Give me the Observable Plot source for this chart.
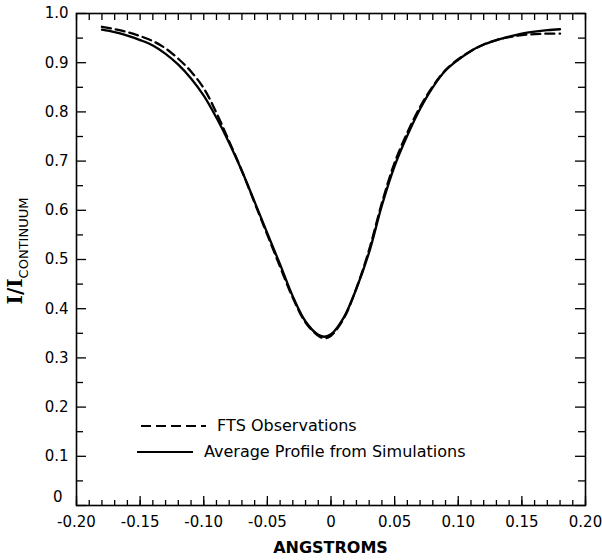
<!DOCTYPE html>
<html><head><meta charset="utf-8">
<script src="https://cdn.jsdelivr.net/npm/d3@7"></script>
<script src="https://cdn.jsdelivr.net/npm/@observablehq/plot@0.6"></script>
<style>body{margin:0;background:#fff}</style>
</head><body><div id="chart"></div>
<script>
// Wavelength offset (Angstroms)
const wavelength = [-0.18,-0.17,-0.16,-0.15,-0.14,-0.13,-0.12,-0.11,-0.10,-0.09,-0.08,-0.07,-0.06,-0.05,-0.04,-0.03,-0.02,-0.01,-0.005,0.0,0.01,0.02,0.03,0.04,0.05,0.06,0.07,0.08,0.09,0.10,0.11,0.12,0.13,0.14,0.15,0.16,0.17,0.18];
// FTS Observations (dashed)
const ftsObs = [0.973,0.968,0.962,0.954,0.944,0.929,0.908,0.882,0.848,0.798,0.740,0.680,0.615,0.550,0.485,0.422,0.372,0.345,0.340,0.345,0.380,0.442,0.520,0.615,0.697,0.758,0.810,0.852,0.885,0.907,0.924,0.937,0.946,0.952,0.956,0.958,0.959,0.959];
// Average profile from simulations (solid)
const simAvg = [0.967,0.962,0.955,0.946,0.935,0.918,0.896,0.868,0.833,0.788,0.737,0.680,0.617,0.553,0.490,0.425,0.374,0.347,0.343,0.348,0.382,0.441,0.515,0.610,0.690,0.752,0.806,0.850,0.884,0.906,0.924,0.937,0.946,0.953,0.959,0.963,0.966,0.968];

const xTicks = [-0.20,-0.15,-0.10,-0.05,0,0.05,0.10,0.15,0.20];
const xTickLabels = ["-0.20","-0.15","-0.10","-0.05","0","0.05","0.10","0.15","0.20"];
const xMinorTicks = [-0.20,-0.19,-0.18,-0.17,-0.16,-0.15,-0.14,-0.13,-0.12,-0.11,-0.10,-0.09,-0.08,-0.07,-0.06,-0.05,-0.04,-0.03,-0.02,-0.01,0,0.01,0.02,0.03,0.04,0.05,0.06,0.07,0.08,0.09,0.10,0.11,0.12,0.13,0.14,0.15,0.16,0.17,0.18,0.19,0.20];
const yTicks = [0,0.1,0.2,0.3,0.4,0.5,0.6,0.7,0.8,0.9,1.0];
const yTickLabels = ["0","0.1","0.2","0.3","0.4","0.5","0.6","0.7","0.8","0.9","1.0"];
const yMinorTicks = [0.05,0.15,0.25,0.35,0.45,0.55,0.65,0.75,0.85,0.95];

const seriesNames = ["FTS Observations","Average Profile from Simulations"];
const xTitle = "ANGSTROMS";

const fts = wavelength.map((x,i)=>({x, y: ftsObs[i]}));
const sim = wavelength.map((x,i)=>({x, y: simAvg[i]}));
const yLabelTicks = yTicks.filter(d => d !== 0);
const yZeroTick = yTicks.filter(d => d === 0);

const W = 602, H = 560;
const mt = 13, mr = 17, mb = 55, ml = 76;
const iw = W - ml - mr, ih = H - mt - mb;
const yFmt = d => yTickLabels[yTicks.indexOf(d)];

const plot = Plot.plot({
  width: W, height: H,
  marginTop: mt, marginRight: mr, marginBottom: mb, marginLeft: ml,
  style: {fontFamily: "DejaVu Sans", fontSize: "15px", color: "#000", background: "#fff"},
  x: {domain: [-0.2, 0.2]},
  y: {domain: [0, 1]},
  marks: [
    Plot.frame({stroke: "#000", strokeWidth: 1.6}),
    // inward ticks
    Plot.ruleX(xMinorTicks, {x: d => d, insetTop: ih - 5, strokeWidth: 1.3}),
    Plot.ruleX(xTicks, {x: d => d, insetTop: ih - 9, strokeWidth: 1.3}),
    Plot.ruleX(xMinorTicks, {x: d => d, insetBottom: ih - 7, strokeWidth: 1.3}),
    Plot.ruleY(yTicks, {y: d => d, insetRight: iw - 10, strokeWidth: 1.3}),
    Plot.ruleY(yMinorTicks, {y: d => d, insetRight: iw - 7, strokeWidth: 1.3}),
    Plot.ruleY(yTicks, {y: d => d, insetLeft: iw - 10, strokeWidth: 1.3}),
    Plot.ruleY(yMinorTicks, {y: d => d, insetLeft: iw - 7, strokeWidth: 1.3}),
    Plot.axisX({ticks: xTicks, tickSize: 0, tickPadding: 11, label: null,
      tickFormat: d => xTickLabels[xTicks.indexOf(d)]}),
    Plot.axisY({ticks: yLabelTicks, tickSize: 0, tickPadding: 8, label: null, tickFormat: yFmt}),
    Plot.axisY({ticks: yZeroTick, tickSize: 0, tickPadding: 14, dy: -8, label: null, tickFormat: yFmt}),
    Plot.line(sim, {x: "x", y: "y", stroke: "#000", strokeWidth: 2.3, curve: "catmull-rom"}),
    Plot.line(fts, {x: "x", y: "y", stroke: "#000", strokeWidth: 2.3, strokeDasharray: "9,5", curve: "catmull-rom"})
  ]
});

const svg = d3.select(plot);
// x title
svg.append("text").attr("x", ml + iw/2).attr("y", 548)
  .attr("text-anchor", "middle").attr("dominant-baseline", "middle")
  .attr("font-family", "DejaVu Sans").attr("font-weight", "bold").attr("font-size", 16)
  .attr("fill", "#000").text(xTitle);
// y title with subscript
const yt = svg.append("text").attr("transform", "translate(22,251) rotate(-90)")
  .attr("text-anchor", "middle").attr("fill", "#000");
yt.append("tspan").attr("font-family", "DejaVu Serif").attr("font-weight", "bold")
  .attr("font-size", 20).text("I/I");
yt.append("tspan").attr("font-family", "DejaVu Sans").attr("font-size", 13)
  .attr("dy", 6).text("CONTINUUM");
// legend
const lg = svg.append("g").attr("font-family", "DejaVu Sans").attr("font-size", 16)
  .attr("fill", "#000").attr("text-anchor", "start");
lg.append("line").attr("x1", 141).attr("x2", 206).attr("y1", 426).attr("y2", 426)
  .attr("stroke", "#000").attr("stroke-width", 2.2).attr("stroke-dasharray", "10,5");
lg.append("text").attr("x", 217).attr("y", 426).attr("text-anchor", "start")
  .attr("dominant-baseline", "middle").text(seriesNames[0]);
lg.append("line").attr("x1", 137).attr("x2", 193).attr("y1", 452).attr("y2", 452)
  .attr("stroke", "#000").attr("stroke-width", 2.2);
lg.append("text").attr("x", 204).attr("y", 452).attr("text-anchor", "start")
  .attr("dominant-baseline", "middle").text(seriesNames[1]);

document.getElementById("chart").append(plot);
</script>
</body></html>
